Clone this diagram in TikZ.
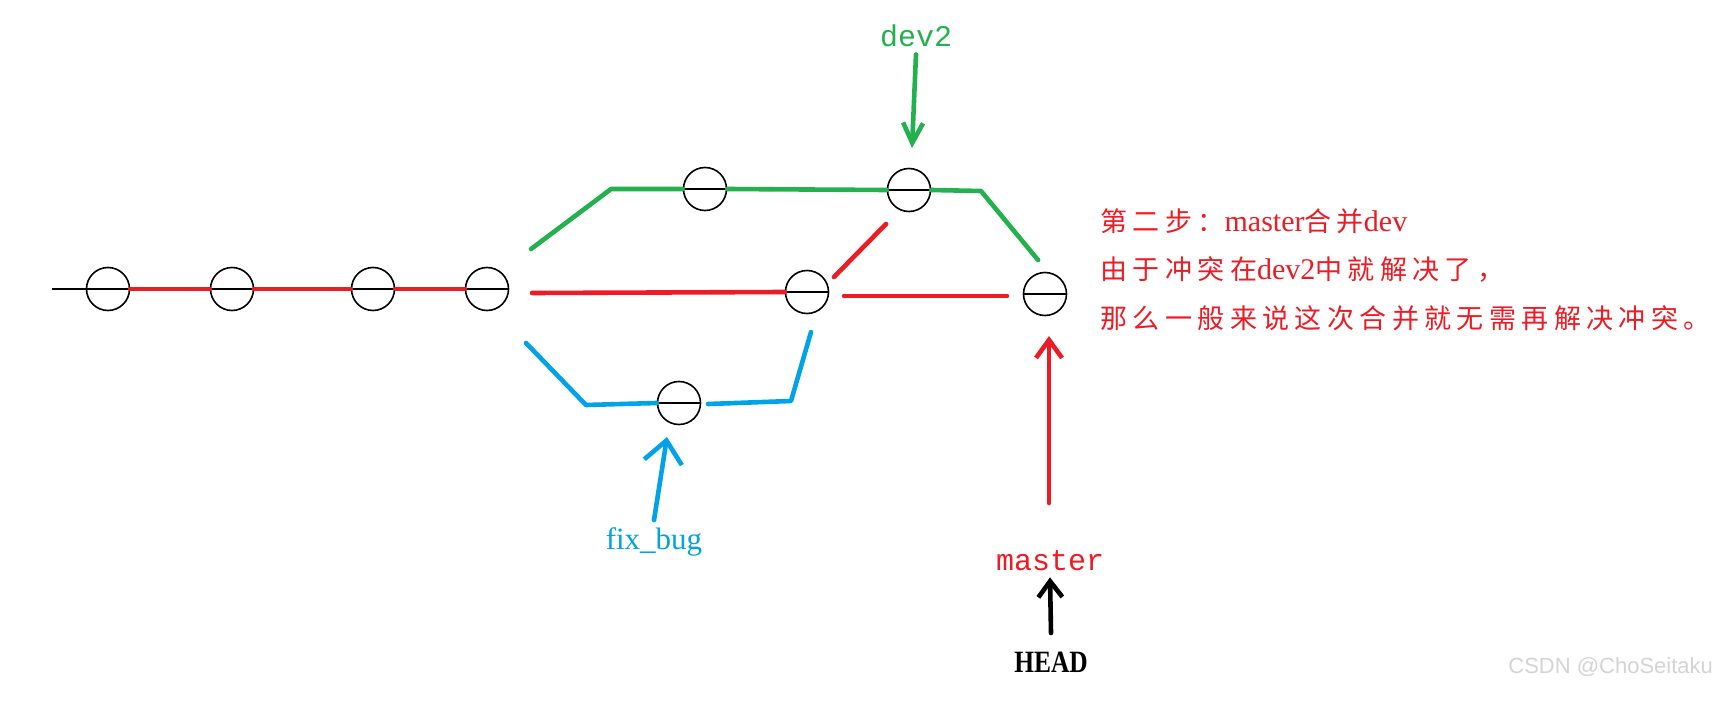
\documentclass[tikz,border=0pt]{standalone}
\usepackage{fontspec}
\setmainfont{Liberation Serif}
\setmonofont{Liberation Mono}
\newfontfamily\cjk[LetterSpace=20]{Noto Sans CJK SC}
\newfontfamily\wmfont{Liberation Sans}
\usetikzlibrary{arrows.meta}
\definecolor{gitred}{RGB}{237,28,36}
\definecolor{gitgreen}{RGB}{34,177,76}
\definecolor{gitblue}{RGB}{0,162,232}
\definecolor{wmgray}{RGB}{212,212,212}
\newcommand{\zhtext}[1]{{\cjk\fontsize{13.5}{15}\selectfont #1}}

\begin{document}
\begin{tikzpicture}[x=0.5pt,y=-0.5pt,
    commit/.style={circle,draw,line width=0.8pt,minimum size=21.5pt,inner sep=0pt,
      path picture={\draw[line width=0.8pt] (path picture bounding box.west) -- (path picture bounding box.east);}},
    branch/.style={line width=2.3pt,line cap=round,line join=round},
    pointer/.style={line width=2.3pt,line cap=round,-{Straight Barb[length=9pt,width=13pt]}},
    note/.style={anchor=west,inner sep=0pt,text=gitred,font=\fontsize{15}{18}\selectfont}]
                \path[fill=white,use as bounding box] (0,0) rectangle (1723,701);

                % commits
                \node[commit] (c1) at (108,289) {};
                \node[commit] (c2) at (232,289) {};
                \node[commit] (c3) at (373,289) {};
                \node[commit] (c4) at (487,289) {};
                \node[commit] (g1) at (705,189) {};
                \node[commit] (g2) at (909,190) {};
                \node[commit] (m1) at (807,292) {};
                \node[commit] (b1) at (679,403) {};
                \node[commit] (m2) at (1045,294) {};

                \coordinate (start) at (52,289);
                \coordinate (gin) at (531,249);
                \coordinate (gup) at (611,189);
                \coordinate (gdn) at (981,191);
                \coordinate (gout) at (1038,260);
                \coordinate (min) at (532,293);
                \coordinate (mout1) at (844,296);
                \coordinate (mout2) at (1007,296);
                \coordinate (dg1) at (834,277);
                \coordinate (dg2) at (886,224);
                \coordinate (bin) at (526,343);
                \coordinate (blow) at (586,405);
                \coordinate (bout) at (708,404);
                \coordinate (bturn) at (791,401);
                \coordinate (bup) at (811,332);

                \draw[line width=0.8pt] (start) -- (c1.west);
                \draw[branch,gitred] (c1.east) -- (c2.west);
                \draw[branch,gitred] (c2.east) -- (c3.west);
                \draw[branch,gitred] (c3.east) -- (c4.west);

                \draw[branch,gitgreen] (gin) -- (gup) -- (g1.west);
                \draw[branch,gitgreen] (g1.east) -- (g2.west);
                \draw[branch,gitgreen] (g2.east) -- (gdn) -- (gout);

                \draw[branch,gitred] (min) -- (m1.west);
                \draw[branch,gitred] (dg1) -- (dg2);
                \draw[branch,gitred] (mout1) -- (mout2);

                \draw[branch,gitblue] (bin) -- (blow) -- (b1.west);
                \draw[branch,gitblue] (bout) -- (bturn) -- (bup);

                % labels
                \node[anchor=base,text=gitgreen,font=\ttfamily\fontsize{15}{18}\selectfont] (dev2lbl) at (916,47) {dev2};
                \node[anchor=base,text=gitblue,font=\fontsize{15.5}{18}\selectfont] (fixlbl) at (654,549) {fix\_bug};
                \node[anchor=base,text=gitred,font=\ttfamily\fontsize{15}{18}\selectfont] (masterlbl) at (1050,570) {master};
                \node[anchor=base,font=\bfseries\fontsize{15.5}{18}\selectfont] (headlbl) at (1051,672) {\scalebox{0.82}[1]{HEAD}};

                \coordinate (g2tip) at (912,148);
                \coordinate (b1tip) at (667,437);
                \coordinate (mtail) at (1049,503);
                \coordinate (m2tip) at (1049,336);
                \coordinate (htail) at (1051,633);

                \draw[pointer,gitgreen,-{Straight Barb[length=10pt,width=10pt]}] (dev2lbl.south) -- (g2tip);
                \draw[pointer,gitblue,-{Straight Barb[length=11pt,width=19pt]}] (fixlbl.north) -- (b1tip);
                \draw[pointer,gitred] (mtail) -- (m2tip);
                \draw[pointer,black,-{Straight Barb[length=8pt,width=12pt]}] (htail) -- (masterlbl.south);

                \node[note] (step) at (1100,221) {\zhtext{第二步：}master\zhtext{合并}dev};
                \node[note] (why) at (1100,270) {\zhtext{由于冲突在}dev2\zhtext{中就解决了，}};
                \node[note] (sowhat) at (1100,318) {\zhtext{那么一般来说这次合并就无需再解决冲突。}};

                \node[anchor=base east,text=wmgray,font=\wmfont\fontsize{11}{13}\selectfont] (mark) at (1720,673) {CSDN @ChoSeitaku};
\end{tikzpicture}
\end{document}
